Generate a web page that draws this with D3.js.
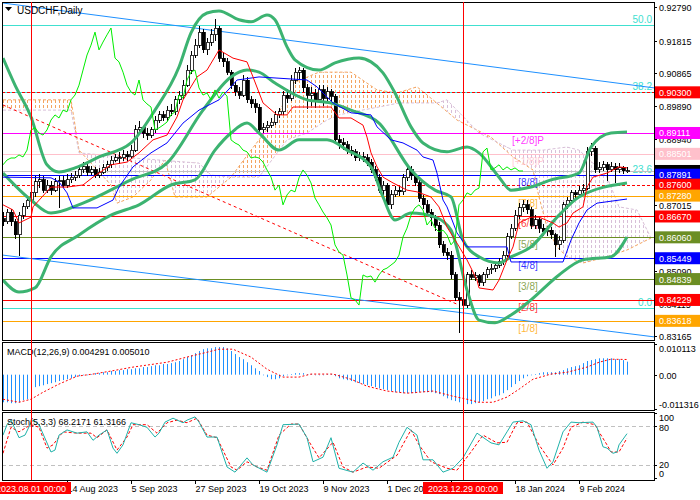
<!DOCTYPE html>
<html>
<head>
<meta charset="utf-8">
<script src="https://cdn.jsdelivr.net/npm/d3@7"></script>
<style>
body { margin: 0; background: #fff; }
svg text { font-family: "Liberation Sans", Arial, sans-serif; }
</style>
</head>
<body>
<script>
// ---- daily candles, USDCHF (open = previous close) ----
var firstOpen = 0.8660;
var closes = [0.8651,0.8680,0.8651,0.8613,0.8671,0.8695,0.8715,0.8736,0.8768,0.8774,
  0.8744,0.8759,0.8744,0.8768,0.8771,0.8759,0.8774,0.8782,0.8788,0.8803,
  0.8812,0.8797,0.8803,0.8788,0.8797,0.8809,0.8818,0.8832,0.8838,0.8838,
  0.8847,0.8841,0.8861,0.8920,0.8926,0.8911,0.8905,0.8920,0.8949,0.8964,
  0.8955,0.8978,0.8973,0.9008,0.9022,0.9051,0.9095,0.9139,0.9168,0.9206,
  0.9154,0.9177,0.9198,0.9218,0.9130,0.9119,0.9089,0.9051,0.9031,0.9022,
  0.9066,0.9008,0.8996,0.8987,0.8920,0.8926,0.8934,0.8943,0.8964,0.8973,
  0.9022,0.9013,0.9066,0.9089,0.9095,0.9043,0.9022,0.9028,0.9008,0.9037,
  0.9013,0.9031,0.9019,0.8891,0.8882,0.8876,0.8861,0.8856,0.8838,0.8841,
  0.8838,0.8826,0.8803,0.8782,0.8744,0.8759,0.8701,0.8730,0.8744,0.8739,
  0.8780,0.8803,0.8788,0.8765,0.8721,0.8701,0.8680,0.8663,0.8642,0.8584,
  0.8563,0.8554,0.8496,0.8429,0.8423,0.8408,0.8496,0.8490,0.8493,0.8475,
  0.8496,0.8511,0.8516,0.8525,0.8534,0.8554,0.8607,0.8633,0.8671,0.8692,
  0.8701,0.8686,0.8642,0.8657,0.8633,0.8622,0.8627,0.8613,0.8584,0.8598,
  0.8701,0.8715,0.8736,0.8730,0.8744,0.8750,0.8856,0.8867,0.8803,0.8809,
  0.8818,0.8803,0.8812,0.8803,0.8809,0.8800,0.8800];
var highs = [0.8680,0.8690,0.8688,0.8660,0.8680,0.8705,0.8725,0.8750,0.8785,0.8790,
  0.8785,0.8775,0.8770,0.8780,0.8785,0.8785,0.8790,0.8795,0.8800,0.8815,
  0.8825,0.8820,0.8815,0.8812,0.8808,0.8820,0.8830,0.8845,0.8850,0.8855,
  0.8860,0.8858,0.8875,0.8935,0.8945,0.8932,0.8925,0.8930,0.8960,0.8975,
  0.8975,0.8990,0.8995,0.9020,0.9035,0.9065,0.9110,0.9150,0.9185,0.9225,
  0.9215,0.9190,0.9215,0.9245,0.9225,0.9145,0.9130,0.9095,0.9060,0.9045,
  0.9080,0.9075,0.9020,0.9010,0.8995,0.8940,0.8945,0.8955,0.8975,0.8985,
  0.9035,0.9040,0.9080,0.9100,0.9105,0.9100,0.9055,0.9045,0.9040,0.9050,
  0.9050,0.9045,0.9040,0.9025,0.8905,0.8895,0.8888,0.8872,0.8865,0.8855,
  0.8855,0.8850,0.8835,0.8815,0.8790,0.8770,0.8765,0.8745,0.8755,0.8755,
  0.8790,0.8820,0.8815,0.8795,0.8775,0.8730,0.8715,0.8690,0.8670,0.8650,
  0.8595,0.8575,0.8565,0.8505,0.8445,0.8440,0.8505,0.8510,0.8505,0.8500,
  0.8505,0.8520,0.8528,0.8535,0.8545,0.8565,0.8620,0.8645,0.8685,0.8705,
  0.8715,0.8715,0.8695,0.8670,0.8665,0.8645,0.8640,0.8635,0.8620,0.8610,
  0.8710,0.8725,0.8745,0.8745,0.8755,0.8762,0.8870,0.8882,0.8872,0.8825,
  0.8830,0.8825,0.8825,0.8822,0.8822,0.8815,0.8812];
var lows = [0.8640,0.8645,0.8640,0.8600,0.8550,0.8660,0.8688,0.8705,0.8725,0.8750,
  0.8735,0.8735,0.8730,0.8740,0.8692,0.8750,0.8750,0.8765,0.8770,0.8780,
  0.8795,0.8785,0.8788,0.8780,0.8780,0.8790,0.8800,0.8810,0.8825,0.8820,
  0.8830,0.8830,0.8835,0.8855,0.8905,0.8895,0.8890,0.8895,0.8912,0.8940,
  0.8945,0.8945,0.8960,0.8965,0.8995,0.9010,0.9045,0.9085,0.9130,0.9160,
  0.9145,0.9140,0.9165,0.9180,0.9120,0.9105,0.9080,0.9040,0.9020,0.9010,
  0.9015,0.9000,0.8985,0.8970,0.8910,0.8910,0.8915,0.8925,0.8935,0.8955,
  0.8965,0.9000,0.9005,0.9055,0.9070,0.9030,0.8980,0.8990,0.8985,0.9000,
  0.8990,0.9005,0.9005,0.8880,0.8865,0.8860,0.8850,0.8845,0.8830,0.8828,
  0.8825,0.8815,0.8795,0.8770,0.8735,0.8730,0.8690,0.8690,0.8725,0.8728,
  0.8730,0.8770,0.8775,0.8755,0.8710,0.8690,0.8670,0.8640,0.8625,0.8575,
  0.8550,0.8540,0.8485,0.8420,0.8326,0.8395,0.8400,0.8480,0.8478,0.8465,
  0.8465,0.8488,0.8500,0.8505,0.8515,0.8525,0.8548,0.8600,0.8625,0.8660,
  0.8680,0.8675,0.8630,0.8630,0.8620,0.8610,0.8610,0.8600,0.8549,0.8570,
  0.8590,0.8690,0.8705,0.8720,0.8720,0.8735,0.8745,0.8845,0.8795,0.8795,
  0.8800,0.8770,0.8798,0.8765,0.8795,0.8792,0.8795];

// ---- indicator lines: [bar, value] ----
var bbUpper = [[0,0.9130],[3,0.9051],[7,0.8958],[11,0.8818],[14,0.8797],[18,0.8809],[24,0.8841],
  [32,0.8882],[38,0.8978],[44,0.9104],[47,0.9204],[51,0.9262],[54,0.9268],[59,0.9242],[62,0.9236],
  [66,0.9256],[68,0.9242],[71,0.9163],[73,0.9125],[79,0.9095],[83,0.9116],[89,0.9130],[92,0.9119],
  [95,0.9087],[98,0.9028],[102,0.8929],[105,0.8882],[111,0.8856],[116,0.8870],[119,0.8853],
  [124,0.8782],[127,0.8744],[132,0.8753],[137,0.8774],[144,0.8794],[147,0.8870],[152,0.8911],[156,0.8914]];
var bbMiddle = [[0,0.8794],[7,0.8715],[12,0.8677],[20,0.8706],[32,0.8774],[41,0.8823],[50,0.8978],
  [57,0.9075],[61,0.9095],[64,0.9089],[68,0.9057],[76,0.9008],[82,0.8999],[87,0.8978],[94,0.8940],
  [102,0.8803],[108,0.8744],[112,0.8724],[115,0.8598],[119,0.8549],[124,0.8531],[127,0.8549],
  [132,0.8578],[139,0.8671],[144,0.8724],[156,0.8765]];
var bbLower = [[0,0.8481],[4,0.8446],[8,0.8458],[12,0.8549],[19,0.8613],[27,0.8671],[34,0.8701],
  [42,0.8759],[48,0.8774],[53,0.8861],[57,0.8911],[61,0.8940],[64,0.8911],[69,0.8861],[74,0.8891],
  [81,0.8891],[86,0.8861],[92,0.8812],[95,0.8724],[98,0.8657],[102,0.8677],[108,0.8665],[112,0.8627],
  [116,0.8452],[119,0.8364],[123,0.8356],[127,0.8379],[132,0.8423],[139,0.8496],[145,0.8540],
  [152,0.8549],[156,0.8607]];
var tenkan = [[0,0.8701],[2.5,0.8686],[4,0.8648],[7,0.8665],[7.5,0.8695],[12,0.8753],[16,0.8753],
  [20,0.8759],[22.5,0.8782],[27,0.8818],[31,0.8826],[34,0.8853],[37.5,0.8891],[41,0.8905],[43.5,0.8958],
  [45,0.9008],[48.5,0.9075],[51,0.9095],[54,0.9154],[57.5,0.9130],[61,0.9119],[62.5,0.9075],[65,0.8999],
  [68.5,0.8964],[71,0.8964],[72.5,0.8987],[82,0.8987],[84,0.8955],[87,0.8955],[90,0.8934],[91,0.8899],
  [92,0.8853],[93.5,0.8812],[95,0.8782],[97.5,0.8765],[101,0.8744],[103.5,0.8739],[107,0.8724],
  [109,0.8695],[111,0.8636],[113.5,0.8589],[116,0.8540],[118.5,0.8481],[119,0.8458],[122.5,0.8452],
  [124,0.8481],[126,0.8540],[127.5,0.8578],[129,0.8648],[132,0.8665],[134,0.8665],[137.5,0.8648],
  [139,0.8636],[141,0.8648],[142.5,0.8677],[145,0.8695],[146,0.8753],[147.5,0.8782],[151,0.8794],
  [154,0.8812],[156,0.8809]];
var kijun = [[0,0.8782],[12,0.8780],[14,0.8768],[16,0.8736],[17.5,0.8692],[23.5,0.8692],[27.5,0.8715],
  [29,0.8753],[32.5,0.8812],[37,0.8853],[41,0.8882],[45,0.8940],[49,0.8978],[54,0.9008],[57,0.9046],
  [58.5,0.9066],[64,0.9075],[76,0.9066],[78.5,0.9046],[82.5,0.8999],[87,0.8970],[92,0.8964],
  [93.5,0.8929],[97,0.8891],[100,0.8882],[103.5,0.8861],[105,0.8841],[107.5,0.8832],[108.5,0.8794],
  [110,0.8715],[111,0.8695],[113.5,0.8619],[116,0.8578],[126,0.8578],[127,0.8534],[140,0.8534],
  [142,0.8598],[144,0.8648],[146,0.8686],[148.5,0.8706],[156,0.8718]];
var spanA = [[0,0.9008],[17,0.9008],[19,0.8861],[27,0.8759],[28.5,0.8706],[32.5,0.8724],[37,0.8774],
  [40.5,0.8832],[43,0.8724],[51,0.8724],[57,0.8782],[62,0.8861],[68.5,0.8958],[72.5,0.9057],
  [79,0.9089],[87,0.9089],[93.5,0.9037],[98.5,0.9028],[103.5,0.9046],[107.5,0.9008],[113.5,0.8949],
  [122,0.8899],[127.5,0.8841],[132.5,0.8803],[134,0.8724],[136,0.8636],[138.5,0.8578],[141,0.8549],
  [145,0.8531],[151,0.8549],[156,0.8569],[162,0.8604]];
var spanB = [[0,0.8978],[17,0.8978],[19,0.8853],[32.5,0.8838],[39,0.8832],[49,0.8823],[52,0.8788],
  [57,0.8782],[64,0.8782],[71,0.8891],[76,0.8911],[81,0.8949],[84,0.8964],[87.5,0.8973],[94,0.8987],
  [99,0.8999],[108.5,0.8999],[111,0.9008],[119,0.8911],[127.5,0.8861],[135,0.8861],[141,0.8870],
  [144,0.8861],[147.5,0.8823],[151,0.8782],[154,0.8695],[158.5,0.8686],[162,0.8604]];
var chikouShift = 26;

// ---- levels and objects ----
var mmValues = [0.89111,0.88501,0.87891,0.87280,0.86670,0.86060,0.85449,0.84839,0.84229,0.83618];
var mmNames = ["[+2/8]P","[+1/8]P","[8/8]","[7/8]","[6/8]","[5/8]","[4/8]","[3/8]","[2/8]","[1/8]"];
var mmColors = ["#ff00ff","#ffc0cb","#0000ff","#ffa500","#ff0000","#6b8e23","#0000ff","#6b8e23","#ff0000","#ffa500"];
var fibLevels = [0, 23.6, 38.2, 50];
var fibZero = 0.8399, fibFull = 1.0053;
var redDashLevels = [0.90300, 0.87600];
var trendRed = [[0,0.8993],[114,0.8408]];
var channelTop = [[0,0.9291],[162.75,0.9043]];
var channelBottom = [[0,0.8554],[162.75,0.8315]];
var lastPrice = 0.88000;

// ---- right axis ----
var priceTicks = [0.92790,0.91815,0.90865,0.89890,0.88940,0.87965,0.87015,0.86040,0.85090,0.84115,0.83165];
var priceTickShown = [true,true,true,true,true,false,true,false,true,true,true];
var boxValues = [0.90300,0.89111,0.88501,0.88000,0.87891,0.87600,0.87280,0.86670,0.86060,0.85449,0.84839,0.84229,0.83618];
var boxColors = ["#ff0000","#ff00ff","#ffc0cb","#000000","#0000ff","#ff0000","#ffa500","#ff0000","#6b8e23","#0000ff","#6b8e23","#ff0000","#ffa500"];
var boxHidden = [false,false,false,true,false,false,false,false,false,false,false,false,false];

// ---- time axis ----
var timeTickBars = [16,32,48,64,80,96,112,128,144];
var timeTickLabels = ["14 Aug 2023","5 Sep 2023","27 Sep 2023","19 Oct 2023","9 Nov 2023","1 Dec 2023","","18 Jan 2024","9 Feb 2024"];
var markerBars = [7, 115];
var markerLabels = ["2023.08.01 00:00","2023.12.29 00:00"];

// ---- MACD(12,26,9): main per bar, signal read as knots ----
var macdMain = [-0.0091,-0.0091,-0.0094,-0.0094,-0.0091,-0.0084,-0.0081,-0.0064,-0.0041,-0.0038,
  -0.0035,-0.0031,-0.0028,-0.0025,-0.0021,-0.0018,-0.0015,-0.0012,-0.0008,-0.0005,
  -0.0002,-0.0002,0.0002,0.0005,0.0005,0.0008,0.0008,0.0012,0.0012,0.0015,
  0.0015,0.0018,0.0018,0.0021,0.0021,0.0025,0.0025,0.0028,0.0031,0.0031,
  0.0035,0.0035,0.0038,0.0041,0.0045,0.0051,0.0058,0.0064,0.0071,0.0078,
  0.0084,0.0087,0.0087,0.0091,0.0091,0.0091,0.0087,0.0078,0.0068,0.0058,
  0.0051,0.0041,0.0031,0.0021,0.0012,-0.0002,-0.0008,-0.0015,-0.0015,-0.0012,
  -0.0005,-0.0002,0.0002,0.0005,0.0005,0.0005,0.0002,0.0002,-0.0002,-0.0002,
  -0.0002,0.0002,0.0002,-0.0005,-0.0012,-0.0015,-0.0018,-0.0021,-0.0025,-0.0028,
  -0.0031,-0.0035,-0.0038,-0.0041,-0.0045,-0.0048,-0.0051,-0.0054,-0.0058,-0.0058,
  -0.0061,-0.0061,-0.0061,-0.0061,-0.0058,-0.0058,-0.0058,-0.0058,-0.0061,-0.0064,
  -0.0071,-0.0078,-0.0084,-0.0087,-0.0091,-0.0094,-0.0097,-0.0097,-0.0094,-0.0091,
  -0.0087,-0.0081,-0.0078,-0.0071,-0.0068,-0.0061,-0.0051,-0.0041,-0.0031,-0.0021,
  -0.0012,-0.0005,-0.0002,0.0002,0.0005,0.0008,0.0008,0.0008,0.0008,0.0012,
  0.0015,0.0021,0.0025,0.0028,0.0031,0.0038,0.0045,0.0048,0.0051,0.0054,
  0.0054,0.0054,0.0054,0.0051,0.0051,0.0048,0.004291];
var macdSignal = [[0,-0.0081],[4,-0.0091],[7,-0.0081],[10,-0.0058],[14,-0.0031],[18.5,-0.0005],
  [22.5,0.0002],[27,0.0012],[32.5,0.0025],[41,0.0041],[46,0.0058],[51,0.0074],[54,0.0084],
  [57.5,0.0084],[62,0.0058],[66,0.0018],[70,-0.0008],[74,-0.0008],[77,0.0002],[82.5,0.0002],
  [87,-0.0015],[91,-0.0038],[96,-0.0054],[101,-0.0061],[107.5,-0.0054],[112.5,-0.0071],[116,-0.0081],
  [119,-0.0091],[122.5,-0.0091],[126,-0.0074],[129,-0.0048],[132.5,-0.0015],[137,0.0002],
  [141,0.0008],[146,0.0025],[149,0.0041],[152,0.0051],[156,0.00501]];
var macdTicks = [0.010113, 0, -0.011316];
var macdTickLabels = ["0.010113","0.00","-0.011316"];

// ---- Stochastic(5,3,3) read as knots ----
var stochK = [[0,66],[1,82],[2,89],[3.5,69],[4,62],[5.5,66],[7,85],[7.5,89],[9,82],[12,40],[13,43],
  [14,66],[16,74],[18.5,69],[21,71],[22.5,58],[24,66],[26,74],[27.5,46],[28.5,38],[30,51],[32,85],
  [34,82],[36,78],[38,63],[39,69],[40.5,86],[42.5,92],[45,85],[46,89],[48,94],[49,86],[51,63],
  [53.5,63],[56,17],[58,9],[61,31],[62.5,20],[66,9],[68.5,51],[70,82],[74,83],[76,62],[77.5,25],
  [80,32],[82,62],[84,15],[87.5,9],[90,23],[92.5,12],[95,25],[97.5,32],[99,55],[101,78],[103.5,66],
  [105,28],[107.5,28],[110,9],[112.5,15],[115,31],[118.5,69],[122,54],[124,51],[126,71],[127.5,86],
  [130,88],[132,82],[134,43],[136,15],[137.5,25],[140,71],[142,86],[144,85],[147.5,86],[148.5,78],
  [150,48],[151,46],[152.5,38],[153.5,40],[154,51],[156,68.2171]];
var stochD = [[0,38],[2,78],[4,71],[7,82],[9,78],[11,46],[12.5,51],[15,71],[18.5,69],[22,69],
  [23.5,62],[26,74],[28.5,43],[31,63],[32.5,82],[36,82],[38.5,69],[41,85],[43.5,89],[46,85],
  [48.5,92],[51,66],[53.5,62],[57,17],[58.5,12],[61,25],[63.5,17],[66,12],[69,66],[72,83],[74,83],
  [77,51],[79,31],[82.5,55],[85,17],[87.5,9],[91,17],[94,15],[98.5,35],[102,74],[104,51],[107,25],
  [111,15],[113.5,12],[117,40],[120,66],[123.5,54],[126,55],[128.5,85],[131,86],[134,51],[137.5,20],
  [140,46],[142,78],[145,86],[148,82],[149,71],[151,51],[152,40],[154,40],[156,61.3166]];
var stochLevels = [80, 20];
var stochTicks = [100, 80, 20, 0];
var stochTickBaselines = [421, 431, 468, 477];

// ---- layout ----
var W = 700, H = 500;
var plotL = 2, plotR = 654;
var mainTop = 2, mainBot = 340;
var macdTop = 342, macdBot = 410;
var stochTop = 412, stochBot = 480;

var x = d3.scaleLinear().domain([0, 162.75]).range([3, 654]);
var y = d3.scaleLinear().domain([0.83058, 0.92941]).range([mainBot, mainTop]);
var yMacd = d3.scaleLinear().domain([-0.011316, 0.010113]).range([409, 344]);
var yStoch = d3.scaleLinear().domain([0, 100]).range([478, 413]);

var svg = d3.select("body").append("svg")
    .attr("width", W)
    .attr("height", H)
    .style("background", "#fff");

var defs = svg.append("defs");
function addClip(id, y0, y1) {
    defs.append("clipPath").attr("id", id)
        .append("rect").attr("x", plotL).attr("y", y0).attr("width", plotR - plotL).attr("height", y1 - y0);
}
addClip("clipMain", mainTop, mainBot);
addClip("clipMacd", macdTop, macdBot);
addClip("clipStoch", stochTop, stochBot);

//hatch patterns for the cloud (vertical dotted strokes, one per bar)
function addHatch(id, color) {
    var p = defs.append("pattern").attr("id", id)
        .attr("patternUnits", "userSpaceOnUse")
        .attr("width", 4).attr("height", 5)
        .attr("patternTransform", "translate(3,0)");
    p.append("rect").attr("x", 0).attr("y", 0).attr("width", 1).attr("height", 3).attr("fill", color);
}
addHatch("hatchSandy", "#f4a460");
addHatch("hatchThistle", "#d8bfd8");

var knot = function (scaleY, curve) {
    return d3.line()
        .x(function (d) { return x(d[0]); })
        .y(function (d) { return scaleY(d[1]); })
        .curve(curve || d3.curveLinear);
};

//---------------- main panel ----------------
var main = svg.append("g").attr("clip-path", "url(#clipMain)");

//Ichimoku cloud: area between the spans, coloured by which span is on top
var cloudPoly = knot(y)(spanA.concat(spanB.slice().reverse())) + "Z";
var aboveB = knot(y)(spanB.concat([[spanB[spanB.length - 1][0], 0.95], [spanB[0][0], 0.95]])) + "Z";
var aboveA = knot(y)(spanA.concat([[spanA[spanA.length - 1][0], 0.95], [spanA[0][0], 0.95]])) + "Z";
defs.append("clipPath").attr("id", "clipAboveB").append("path").attr("d", aboveB);
defs.append("clipPath").attr("id", "clipAboveA").append("path").attr("d", aboveA);
main.append("g").attr("clip-path", "url(#clipAboveB)")
    .append("path").attr("d", cloudPoly).attr("fill", "url(#hatchSandy)");
main.append("g").attr("clip-path", "url(#clipAboveA)")
    .append("path").attr("d", cloudPoly).attr("fill", "url(#hatchThistle)");
main.append("path").attr("d", knot(y)(spanA)).attr("fill", "none")
    .attr("stroke", "#f4a460").attr("stroke-dasharray", "3,2");
main.append("path").attr("d", knot(y)(spanB)).attr("fill", "none")
    .attr("stroke", "#d8bfd8").attr("stroke-dasharray", "3,2");

//horizontal levels
var hline = function (v, color, dash) {
    main.append("line")
        .attr("x1", plotL).attr("x2", plotR)
        .attr("y1", Math.round(y(v)) + 0.5).attr("y2", Math.round(y(v)) + 0.5)
        .attr("stroke", color)
        .attr("stroke-dasharray", dash || null);
};
fibLevels.forEach(function (lv) {
    var v = fibZero + (fibFull - fibZero) * lv / 100;
    hline(v, "#40e0d0");
    main.append("text").attr("x", 652).attr("y", Math.round(y(v)) - 2)
        .attr("text-anchor", "end").attr("font-size", 10).attr("fill", "#40e0d0")
        .text(lv.toFixed(1));
});
hline(lastPrice, "#c0c0c0");
mmValues.forEach(function (v, k) {
    hline(v, mmColors[k]);
});
redDashLevels.forEach(function (v) { hline(v, "#ff0000", "3,2"); });

//trend line and channel
main.append("path").attr("d", knot(y)(trendRed)).attr("fill", "none")
    .attr("stroke", "#ff0000").attr("stroke-dasharray", "3,3");
[channelTop, channelBottom].forEach(function (c) {
    main.append("path").attr("d", knot(y)(c)).attr("fill", "none").attr("stroke", "#1e90ff");
});

//Murray labels
mmValues.forEach(function (v, k) {
    main.append("text").attr("x", 528).attr("y", Math.round(y(v)) + 11)
        .attr("text-anchor", "middle").attr("font-size", 10)
        .attr("fill", mmColors[k]).attr("fill-opacity", 0.8)
        .text(mmNames[k]);
});

//candles
var bars = closes.map(function (c, i) {
    return { i: i, o: i === 0 ? firstOpen : closes[i - 1], h: highs[i], l: lows[i], c: c };
});
var cg = main.append("g").attr("shape-rendering", "crispEdges");
cg.selectAll("line.wick").data(bars).enter().append("line")
    .attr("x1", function (d) { return x(d.i) + 0.5; })
    .attr("x2", function (d) { return x(d.i) + 0.5; })
    .attr("y1", function (d) { return y(d.h); })
    .attr("y2", function (d) { return y(d.l); })
    .attr("stroke", "#000");
cg.selectAll("rect.body").data(bars).enter().append("rect")
    .attr("x", function (d) { return x(d.i) - 1; })
    .attr("width", 3)
    .attr("y", function (d) { return y(Math.max(d.o, d.c)); })
    .attr("height", function (d) { return Math.max(1, Math.abs(y(d.o) - y(d.c))); })
    .attr("fill", function (d) { return d.c >= d.o ? "#fff" : "#000"; })
    .attr("stroke", "#000")
    .attr("stroke-width", 0.8);

//Bollinger bands
[bbUpper, bbMiddle, bbLower].forEach(function (b) {
    main.append("path").attr("d", knot(y, d3.curveMonotoneX)(b)).attr("fill", "none")
        .attr("stroke", "#3cb371").attr("stroke-width", 3);
});

//Ichimoku lines
main.append("path").attr("d", knot(y)(kijun)).attr("fill", "none").attr("stroke", "#0000ff");
main.append("path").attr("d", knot(y)(tenkan)).attr("fill", "none").attr("stroke", "#ff0000");
var chikou = closes.slice(chikouShift).map(function (c, i) { return [i, c]; });
main.append("path").attr("d", knot(y)(chikou)).attr("fill", "none").attr("stroke", "#00ee00");

//title
svg.append("path").attr("d", "M5,7 L12,7 L8.5,11 Z").attr("fill", "#000");
svg.append("text").attr("x", 17).attr("y", 14).attr("font-size", 10).text("USDCHF,Daily");

//---------------- MACD panel ----------------
var macd = svg.append("g").attr("clip-path", "url(#clipMacd)");
macd.selectAll("line").data(macdMain).enter().append("line")
    .attr("x1", function (d, i) { return x(i) + 0.5; })
    .attr("x2", function (d, i) { return x(i) + 0.5; })
    .attr("y1", yMacd(0))
    .attr("y2", function (d) { return yMacd(d); })
    .attr("stroke", "#1e90ff");
macd.append("path").attr("d", knot(yMacd)(macdSignal)).attr("fill", "none")
    .attr("stroke", "#ff0000").attr("stroke-dasharray", "2,2");
svg.append("text").attr("x", 7).attr("y", 355).attr("font-size", 9)
    .text("MACD(12,26,9) 0.004291 0.005010");

//---------------- Stochastic panel ----------------
var st = svg.append("g").attr("clip-path", "url(#clipStoch)");
stochLevels.forEach(function (v) {
    st.append("line").attr("x1", plotL).attr("x2", plotR)
        .attr("y1", Math.round(yStoch(v)) + 0.5).attr("y2", Math.round(yStoch(v)) + 0.5)
        .attr("stroke", "#c0c0c0").attr("stroke-dasharray", "4,3");
});
st.append("path").attr("d", knot(yStoch)(stochD)).attr("fill", "none")
    .attr("stroke", "#ff0000").attr("stroke-dasharray", "3,2");
st.append("path").attr("d", knot(yStoch)(stochK)).attr("fill", "none")
    .attr("stroke", "#20b2aa");
svg.append("text").attr("x", 7).attr("y", 425).attr("font-size", 9)
    .text("Stoch(5,3,3) 68.2171 61.3166");

//---------------- frames ----------------
[[mainTop, mainBot], [macdTop, macdBot], [stochTop, stochBot]].forEach(function (p) {
    svg.append("rect").attr("x", plotL + 0.5).attr("y", p[0] + 0.5)
        .attr("width", plotR - plotL).attr("height", p[1] - p[0])
        .attr("fill", "none").attr("stroke", "#000");
});

//vertical markers
markerBars.forEach(function (b) {
    svg.append("line").attr("x1", x(b) + 0.5).attr("x2", x(b) + 0.5)
        .attr("y1", mainTop).attr("y2", stochBot)
        .attr("stroke", "#ff0000");
});

//---------------- right axes ----------------
var axisG = svg.append("g").attr("font-size", 9);
priceTicks.forEach(function (v, k) {
    var yy = Math.round(y(v)) + 0.5;
    axisG.append("line").attr("x1", plotR).attr("x2", plotR + 3).attr("y1", yy).attr("y2", yy).attr("stroke", "#000");
    if (priceTickShown[k]) {
        axisG.append("text").attr("x", 659).attr("y", yy + 3.5).text(v.toFixed(5));
    }
});
boxValues.forEach(function (v, k) {
    var yy = y(v);
    axisG.append("rect").attr("x", 655).attr("y", yy - 6).attr("width", 45).attr("height", 12)
        .attr("fill", boxColors[k]);
    if (!boxHidden[k]) {
        axisG.append("text").attr("x", 659).attr("y", yy + 3.5).attr("fill", "#fff").text(v.toFixed(5));
    }
});
macdTicks.forEach(function (v, k) {
    var yy = Math.round(yMacd(v)) + 0.5;
    axisG.append("line").attr("x1", plotR).attr("x2", plotR + 3).attr("y1", yy).attr("y2", yy).attr("stroke", "#000");
    axisG.append("text").attr("x", 659).attr("y", Math.min(Math.max(yy, 348), 404) + 3.5).text(macdTickLabels[k]);
});
stochTicks.forEach(function (v, k) {
    var yy = Math.round(yStoch(v)) + 0.5;
    axisG.append("line").attr("x1", plotR).attr("x2", plotR + 3).attr("y1", yy).attr("y2", yy).attr("stroke", "#000");
    axisG.append("text").attr("x", 659).attr("y", stochTickBaselines[k]).text(v);
});

//---------------- time axis ----------------
timeTickBars.forEach(function (b, k) {
    var xx = x(b) + 0.5;
    axisG.append("line").attr("x1", xx).attr("x2", xx).attr("y1", stochBot).attr("y2", stochBot + 4).attr("stroke", "#000");
    if (timeTickLabels[k]) {
        axisG.append("text").attr("x", xx).attr("y", 492).text(timeTickLabels[k]);
    }
});
markerBars.forEach(function (b, k) {
    var xx = x(b);
    axisG.append("rect").attr("x", xx - 40).attr("y", 482).attr("width", 80).attr("height", 12).attr("fill", "#ff0000");
    axisG.append("text").attr("x", xx).attr("y", 492).attr("text-anchor", "middle")
        .attr("fill", "#fff").text(markerLabels[k]);
});
</script>
</body>
</html>
